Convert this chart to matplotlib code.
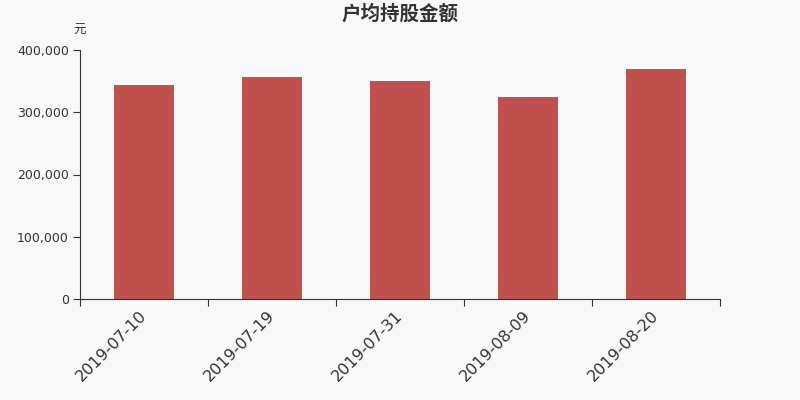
import matplotlib.pyplot as plt
import numpy as np
import matplotlib.ticker as ticker

plt.rcParams['font.family'] = ['DejaVu Sans', 'Noto Sans CJK SC']

dates = ["2019-07-10", "2019-07-19", "2019-07-31", "2019-08-09", "2019-08-20"]
amounts = [344000, 357000, 350000, 324000, 369000]

BG = "#f8f8f8"
BAR = "#c0504d"
TXT = "#333333"

fig = plt.figure(figsize=(8, 4), dpi=100, facecolor=BG)
ax = fig.add_axes([0.1, 0.2525, 0.8, 0.6225], facecolor=BG)

x = np.arange(len(dates))
ax.bar(x, amounts, width=0.47, color=BAR)

ax.set_xlim(-0.5, len(dates) - 0.5)
ax.set_ylim(0, 400000)
ax.yaxis.set_major_locator(ticker.MultipleLocator(100000))
ax.yaxis.set_major_formatter(ticker.FuncFormatter(lambda v, _: f"{int(v):,}"))

# boundary ticks as major, date labels on minor ticks at bar centres
ax.set_xticks(np.arange(len(dates) + 1) - 0.5)
ax.set_xticklabels([])
ax.set_xticks(x, minor=True)
ax.set_xticklabels(dates, minor=True, rotation=45, ha="right", va="center",
                   rotation_mode="anchor", fontsize=11.5, color=TXT)
ax.tick_params(axis="x", which="minor", length=0, pad=10)
ax.tick_params(axis="x", which="major", length=5, color=TXT)
ax.tick_params(axis="y", length=5, pad=3, labelsize=9, colors=TXT)

for side in ("top", "right"):
    ax.spines[side].set_visible(False)
ax.spines["left"].set_color(TXT)
ax.spines["bottom"].set_color(TXT)

fig.text(0.5, 0.965, "户均持股金额", ha="center", va="center", fontsize=14,
         fontweight="bold", color=TXT, family=["Noto Sans CJK SC", "DejaVu Sans"])
fig.text(0.099, 0.925, "元", ha="center", va="center", fontsize=9, color=TXT,
         family=["Noto Sans CJK SC", "DejaVu Sans"])

fig.savefig("out.png", dpi=100, facecolor=BG)
